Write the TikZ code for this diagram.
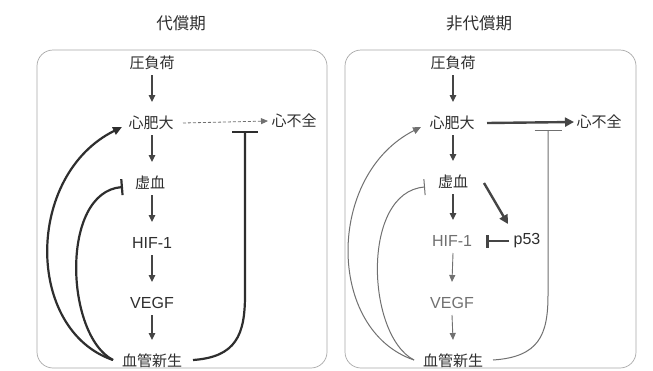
\documentclass[tikz,border=0pt]{standalone}
\usepackage{fontspec}
\newfontfamily\cjk{Noto Sans CJK JP}
\newfontfamily\latn{Liberation Sans}
\usetikzlibrary{arrows.meta,calc}
\definecolor{tc}{HTML}{2E2E2E}
\definecolor{ac}{HTML}{454545}
\definecolor{lc}{HTML}{707070}
\definecolor{bc}{HTML}{A8A8A8}
\begin{document}
\begin{tikzpicture}[x=1pt,y=-1pt,
  jp/.style={font=\cjk\fontsize{15}{17}\selectfont,text=tc,inner sep=0pt},
  la/.style={font=\latn\fontsize{16}{18}\selectfont,text=tc,inner sep=0pt},
  lalight/.style={la,text=lc},
  ttl/.style={font=\cjk\fontsize{16.5}{19}\selectfont,text=tc,inner sep=0pt},
  bx/.style={draw=bc,line width=0.7pt,rounded corners=16pt},
  arr/.style={draw=ac,line width=1.2pt,-{Triangle[length=7pt,width=6.5pt]}},
  arrlight/.style={draw=lc,line width=0.9pt,-{Triangle[length=7pt,width=6pt]}},
  dsh/.style={draw=lc,line width=0.8pt,densely dashed,-{Triangle[length=7pt,width=6pt]}},
  thickarr/.style={draw=ac,line width=2.4pt,-{Triangle[length=9pt,width=9pt]}},
  loopA/.style={draw=tc,line width=2.2pt,-{Triangle[length=9pt,width=8pt]}},
  loopB/.style={draw=tc,line width=2.2pt,-{Bar[width=16pt]}},
  loopC/.style={draw=tc,line width=2.2pt,-{Bar[width=26pt]}},
  thinA/.style={draw=lc,line width=1pt,-{Triangle[length=8pt,width=7pt]}},
  thinB/.style={draw=lc,line width=1pt,-{Bar[width=16pt]}},
  thinC/.style={draw=lc,line width=1pt,-{Bar[width=27pt]}},
  inhib/.style={draw=ac,line width=2.6pt,-{Bar[width=13pt]}}
]
\useasboundingbox (0,0) rectangle (653,370);
\fill[white] (0,0) rectangle (653,370);

% titles
\node[ttl] (t1) at (181,23) {代償期};
\node[ttl] (t2) at (479,23) {非代償期};

% boxes
\draw[bx] (37,50) rectangle (327,368);
\draw[bx] (345,50) rectangle (636,368);

% ---------------- left panel ----------------
\node[jp] (a1) at (152,63) {圧負荷};
\node[jp] (b1) at (151,123) {心肥大};
\node[jp] (f1) at (294,121) {心不全};
\node[jp] (c1) at (150,183) {虚血};
\node[la] (d1) at (152,243) {HIF-1};
\node[la] (e1) at (152,303) {VEGF};
\node[jp] (g1) at (152,361) {血管新生};
\coordinate (h1) at (245,131);

\draw[arr] ($(a1.center)+(0,12)$) -- ($(b1.center)+(1,-21)$);
\draw[arr] ($(b1.center)+(1,12)$) -- ($(c1.center)+(2,-21)$);
\draw[arr] ($(c1.center)+(2,12)$) -- ($(d1.center)+(0,-21)$);
\draw[arr] ($(d1.center)+(0,12)$) -- ($(e1.center)+(0,-21)$);
\draw[arr] ($(e1.center)+(0,12)$) -- ($(g1.center)+(0,-21)$);
\draw[dsh] ($(b1.center)+(32,0)$) -- ($(f1.center)+(-26,0)$);

\draw[loopA] ($(g1.center)+(-39,-1)$) .. controls (25,330) and (25,175) .. ($(b1.center)+(-29,4)$);
\draw[loopB] ($(g1.center)+(-39,-1)$) .. controls (65,335) and (60,192) .. ($(c1.center)+(-27,4)$);
\draw[loopC] ($(g1.center)+(41,-1)$) .. controls (236,357) and (245,335) .. (245,295) -- (h1);

% ---------------- right panel ----------------
\node[jp] (a2) at (453,63) {圧負荷};
\node[jp] (b2) at (452,123) {心肥大};
\node[jp] (f2) at (599,122) {心不全};
\node[jp] (c2) at (453,182) {虚血};
\node[lalight] (d2) at (452,241) {HIF-1};
\node[la] (p2) at (527,241) {p53};
\node[lalight] (e2) at (452,303) {VEGF};
\node[jp] (g2) at (453,361) {血管新生};
\coordinate (h2) at (548,130);

\draw[arr] ($(a2.center)+(0,12)$) -- ($(b2.center)+(1,-21)$);
\draw[arr] ($(b2.center)+(1,12)$) -- ($(c2.center)+(0,-21)$);
\draw[arr] ($(c2.center)+(0,12)$) -- ($(d2.center)+(1,-21)$);
\draw[arrlight] ($(d2.center)+(1,12)$) -- ($(e2.center)+(0,-21)$);
\draw[arrlight] ($(e2.center)+(0,12)$) -- ($(g2.center)+(0,-21)$);
\draw[thickarr] ($(b2.center)+(35,0)$) -- ($(f2.center)+(-25,0)$);
\draw[thickarr] ($(c2.center)+(31,1)$) -- ($(p2.center)+(-19,-17)$);
\draw[inhib] ($(p2.center)+(-18,0)$) -- ($(d2.center)+(34,0)$);

\draw[thinA] ($(g2.center)+(-39,-1)$) .. controls (326,330) and (326,175) .. ($(b2.center)+(-31,4)$);
\draw[thinB] ($(g2.center)+(-39,-1)$) .. controls (366,335) and (361,192) .. ($(c2.center)+(-28,5)$);
\draw[thinC] ($(g2.center)+(40,-1)$) .. controls (539,357) and (548,335) .. (548,295) -- (h2);
\end{tikzpicture}
\end{document}
